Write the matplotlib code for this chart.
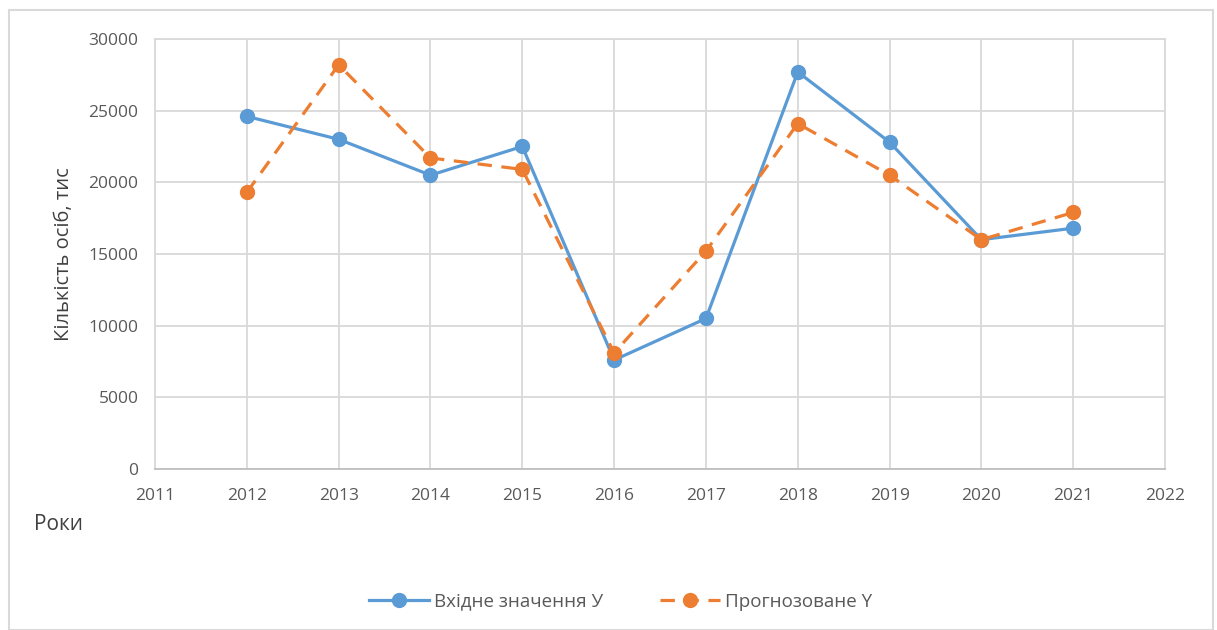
import matplotlib.pyplot as plt
from matplotlib.patches import Rectangle

# --------------------------------------------
# Data
# --------------------------------------------
years = [2012, 2013, 2014, 2015, 2016, 2017, 2018, 2019, 2020, 2021]
actual = [24600, 23000, 20500, 22500, 7600, 10500, 27700, 22800, 16000, 16800]
predicted = [19300, 28200, 21700, 20900, 8100, 15200, 24100, 20500, 16000, 17900]

x_ticks = list(range(2011, 2023))
y_ticks = [0, 5000, 10000, 15000, 20000, 25000, 30000]

blue = "#5B9BD5"
orange = "#ED7D31"
text_gray = "#595959"
grid_gray = "#D9D9D9"

plt.rcParams["font.family"] = ["Open Sans", "DejaVu Sans"]

# --------------------------------------------
# Plot
# --------------------------------------------
fig = plt.figure(figsize=(12.17, 6.30), dpi=100)
ax = fig.add_axes([0.1274, 0.2556, 0.8299, 0.6825])

fig.patches.append(Rectangle((0.007, 0.0), 0.99, 0.984, transform=fig.transFigure,
                             fill=False, edgecolor="#D9D9D9", linewidth=1.5))

ax.plot(years, actual, color=blue, linewidth=2.3, marker="o", markersize=10,
        label="Вхідне значення У", zorder=3)
ax.plot(years, predicted, color=orange, linewidth=2.3, linestyle=(0, (4.5, 3)),
        marker="o", markersize=10, label="Прогнозоване Y", zorder=4)

ax.set_xlim(2011, 2022)
ax.set_ylim(0, 30000)
ax.set_xticks(x_ticks)
ax.set_yticks(y_ticks)
ax.grid(True, color=grid_gray, linewidth=1.3)
ax.set_axisbelow(True)
for s in ax.spines.values():
    s.set_color(grid_gray)
    s.set_linewidth(1.3)
ax.spines["bottom"].set_color("#BFBFBF")
ax.tick_params(length=0, labelsize=12.5, labelcolor=text_gray)
ax.tick_params(axis="x", pad=14)
ax.tick_params(axis="y", pad=12)

ax.set_ylabel("Кількість осіб, тис", fontsize=14.5, color="#404040", labelpad=10)
fig.text(0.028, 0.168, "Роки", fontsize=15, color="#404040", ha="left", va="center")

fig.legend(loc="center", bbox_to_anchor=(0.51, 0.045), ncol=2, frameon=False,
           fontsize=13.5, labelcolor=text_gray, handlelength=3.2, columnspacing=3,
           handletextpad=0.3)

plt.savefig("out.png", dpi=100)
plt.close()
